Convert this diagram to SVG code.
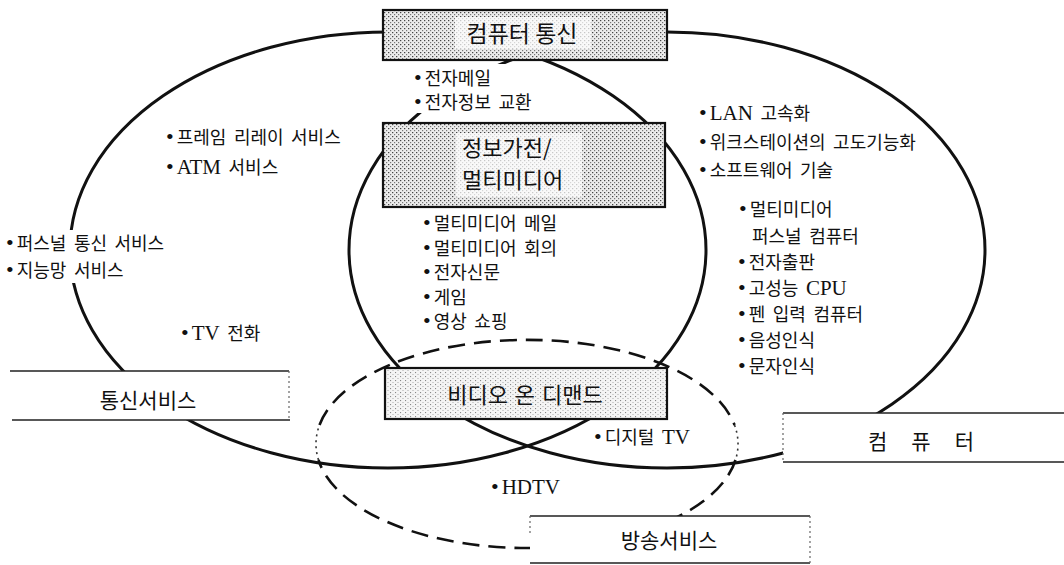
<svg xmlns="http://www.w3.org/2000/svg" width="1064" height="565" viewBox="0 0 1064 565">
<defs>
<pattern id="stip" width="4" height="4" patternUnits="userSpaceOnUse">
<rect width="4" height="4" fill="#ececec"/>
<rect x="0" y="0" width="1.3" height="1.2" fill="#444"/>
<rect x="2" y="2" width="1.2" height="1.2" fill="#777"/>
</pattern>
<pattern id="stip2" width="5" height="4" patternUnits="userSpaceOnUse">
<rect width="5" height="4" fill="#f4f4f4"/>
<rect x="0" y="0" width="1.1" height="1.1" fill="#888"/>
<rect x="2.5" y="2" width="1" height="1" fill="#aaa"/>
</pattern>
</defs>
<style>
.ell{fill:none;stroke:#111;stroke-width:3}
.dash{fill:none;stroke:#111;stroke-width:2.6;stroke-dasharray:17 9}
.dots{fill:none;stroke:#333;stroke-width:1.6;stroke-dasharray:2 4}
.b{font-family:"Liberation Serif","Noto Sans CJK KR",serif;font-size:18px;fill:#111;word-spacing:3px}
.bu{font-size:22px}
.lat{font-size:21px}
.lbl{font-family:"Noto Sans CJK KR","Liberation Sans",sans-serif;fill:#111}
.sbox{fill:url(#stip);stroke:#111;stroke-width:2.2}
.sbox2{fill:url(#stip2);stroke:#111;stroke-width:2.2}
.mask{fill:#fff;stroke:none}
.edge{stroke:#222;stroke-width:1.4;fill:none}
.dot{stroke:#666;stroke-width:1.2;stroke-dasharray:2 3;fill:none}
</style>
<rect width="1064" height="565" fill="#fff"/>

<g id="connectors">
<ellipse class="ell" cx="388" cy="250" rx="318" ry="218"/>
<ellipse class="ell" cx="667" cy="250" rx="318" ry="218"/>
<path class="dash" d="M319.5 425A211 104 0 0 1 734.5 425M735.5 460A211 104 0 0 1 318.5 460"/>
<path class="dots" d="M734.5 425A211 104 0 0 1 735.5 460M318.5 460A211 104 0 0 1 319.5 425"/>
</g>

<g id="node-computer-comm">
<rect class="sbox" x="383" y="10" width="284" height="50"/>
<rect x="455" y="17" width="136" height="32" fill="#fff" opacity="0.7"/>
<text class="lbl" x="522" y="41.5" font-size="23" text-anchor="middle">컴퓨터 통신</text>
</g>

<g id="node-info-multimedia">
<rect class="sbox" x="383" y="123" width="282" height="84"/>
<rect x="456" y="133" width="126" height="64" fill="#fff" opacity="0.7"/>
<text class="lbl" x="462" y="156" font-size="22">정보가전/</text>
<text class="lbl" x="462" y="188" font-size="22">멀티미디어</text>
</g>

<g id="node-vod">
<rect class="sbox2" x="385" y="368" width="282" height="51"/>
<text class="lbl" x="525" y="403" font-size="22" text-anchor="middle" word-spacing="2">비디오 온 디맨드</text>
</g>

<g id="label-telecom">
<rect class="mask" x="0" y="371" width="290" height="49"/>
<path class="edge" d="M10 371H289M12 420H290"/>
<path class="dot" d="M289 371V420"/>
<text class="lbl" x="148" y="407.5" font-size="21" text-anchor="middle">통신서비스</text>
</g>

<g id="label-computer">
<rect class="mask" x="783" y="413" width="281" height="49"/>
<path class="edge" d="M783 413H1064M783 462H1064"/>
<path class="dot" d="M783 413V462"/>
<text class="lbl" x="868" y="449" font-size="21" letter-spacing="24">컴퓨터</text>
</g>

<g id="label-broadcast">
<rect class="mask" x="530" y="516" width="280" height="47"/>
<path class="edge" d="M530 516H810M530 563H810"/>
<path class="dot" d="M810 516V563M530 516V534"/>
<text class="lbl" x="669" y="547.5" font-size="21" text-anchor="middle">방송서비스</text>
</g>

<g id="items-computer-comm">
<rect class="mask" x="410" y="64" width="140" height="49"/>
<text class="b" x="414" y="84.5"><tspan class="bu">•</tspan><tspan dx="3">전자메일</tspan></text>
<text class="b" x="414" y="108.5"><tspan class="bu">•</tspan><tspan dx="3">전자정보 교환</tspan></text>
</g>

<g id="items-telecom">
<text class="b" x="166" y="143.5"><tspan class="bu">•</tspan><tspan dx="3">프레임 리레이 서비스</tspan></text>
<text class="b" x="166" y="173.5"><tspan class="bu">•</tspan><tspan dx="3" class="lat">ATM</tspan> 서비스</text>
<rect class="mask" x="0" y="230" width="192" height="53"/>
<text class="b" x="6" y="249.5"><tspan class="bu">•</tspan><tspan dx="3">퍼스널 통신 서비스</tspan></text>
<text class="b" x="6" y="276.5"><tspan class="bu">•</tspan><tspan dx="3">지능망 서비스</tspan></text>
<text class="b" x="181" y="339.5"><tspan class="bu">•</tspan><tspan dx="3" class="lat">TV</tspan> 전화</text>
</g>

<g id="items-info-multimedia">
<text class="b" x="423" y="230">
<tspan class="bu">•</tspan><tspan dx="3">멀티미디어 메일</tspan></text>
<text class="b" x="423" y="254.5"><tspan class="bu">•</tspan><tspan dx="3">멀티미디어 회의</tspan></text>
<text class="b" x="423" y="279"><tspan class="bu">•</tspan><tspan dx="3">전자신문</tspan></text>
<text class="b" x="423" y="303.5"><tspan class="bu">•</tspan><tspan dx="3">게임</tspan></text>
<text class="b" x="423" y="328"><tspan class="bu">•</tspan><tspan dx="3">영상 쇼핑</tspan></text>
</g>

<g id="items-computer">
<text class="b" x="699" y="119.5"><tspan class="bu">•</tspan><tspan dx="3" class="lat">LAN</tspan> 고속화</text>
<text class="b" x="699" y="148.5"><tspan class="bu">•</tspan><tspan dx="3">위크스테이션의 고도기능화</tspan></text>
<text class="b" x="699" y="176.5"><tspan class="bu">•</tspan><tspan dx="3">소프트웨어 기술</tspan></text>
<text class="b" x="739" y="215.5"><tspan class="bu">•</tspan><tspan dx="3">멀티미디어</tspan></text>
<text class="b" x="752" y="242.5">퍼스널 컴퓨터</text>
<text class="b" x="738" y="268.5"><tspan class="bu">•</tspan><tspan dx="3">전자출판</tspan></text>
<text class="b" x="738" y="294.5"><tspan class="bu">•</tspan><tspan dx="3">고성능 </tspan><tspan class="lat">CPU</tspan></text>
<text class="b" x="738" y="320.5"><tspan class="bu">•</tspan><tspan dx="3">펜 입력 컴퓨터</tspan></text>
<text class="b" x="738" y="346.5"><tspan class="bu">•</tspan><tspan dx="3">음성인식</tspan></text>
<text class="b" x="738" y="372.5"><tspan class="bu">•</tspan><tspan dx="3">문자인식</tspan></text>
</g>

<g id="items-broadcast">
<text class="b" x="594" y="443.5"><tspan class="bu">•</tspan><tspan dx="3">디지털 </tspan><tspan class="lat">TV</tspan></text>
<text class="b" x="491" y="493.5"><tspan class="bu">•</tspan><tspan dx="3" class="lat">HDTV</tspan></text>
</g>
</svg>
